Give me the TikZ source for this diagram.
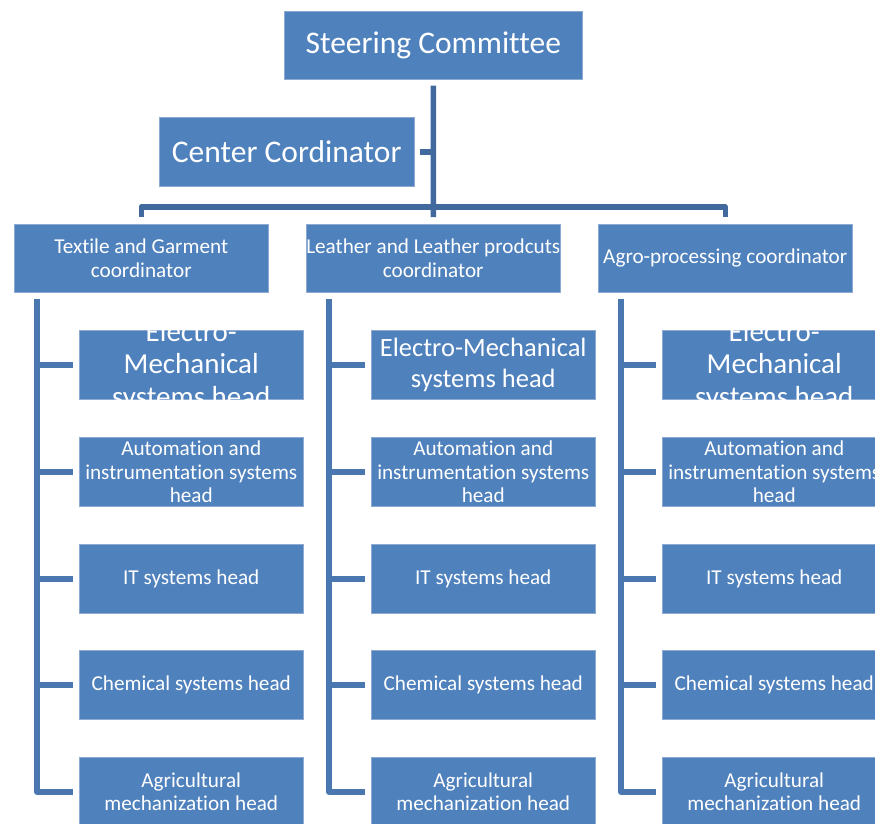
\documentclass[tikz,border=0pt]{standalone}
\usepackage{fontspec}
\setmainfont[Ligatures={NoCommon}]{Carlito}
\definecolor{boxblue}{HTML}{4F81BD}
\definecolor{boxedge}{HTML}{8DAAD3}
\definecolor{topline}{HTML}{41699D}
\definecolor{colline}{HTML}{4A77B0}
\begin{document}
\begin{tikzpicture}[x=1pt,y=-1pt,
  box/.style={fill=boxblue, draw=boxedge, line width=0.5pt, text=white, inner sep=0pt,
    anchor=north west, align=center},
  bigfont/.style={font=\fontsize{31.5}{36}\selectfont},
  midfont/.style={font=\fontsize{21.2}{23.5}\selectfont},
  emfont/.style={font=\fontsize{26.5}{31}\selectfont},
  emclip/.style={font=\fontsize{29}{32.5}\selectfont},
  lvl/.style={box, midfont, minimum width=254pt, minimum height=68pt},
  head/.style={box, midfont, minimum width=224pt, minimum height=69pt},
  topconn/.style={draw=topline, line width=5.5pt},
  colconn/.style={draw=colline, line width=5.5pt},
  wtext/.style={text=white, align=center, inner sep=0pt}
]
\clip (0,0) rectangle (875,823);
\fill[white] (0,0) rectangle (875,823);

% top levels
\node[box, bigfont, minimum width=298pt, minimum height=68pt] (steer) at (284,11) {Steering Committee};
\node[box, bigfont, minimum width=255pt, minimum height=69pt] (center) at (159,117) {Center Cordinator};
\node[lvl] (tex) at (14,224) {Textile and Garment\\coordinator};
\node[lvl] (lea) at (306,224) {Leather and Leather prodcuts\\coordinator};
\node[lvl] (agro) at (598,224) {Agro-processing coordinator};

% top connectors
\draw[topconn] ([yshift=-6pt]steer.south) -- ([yshift=7pt]lea.north);
\draw[topconn] ([xshift=5pt]center.east) -- (center.east -| steer.south);
\draw[topconn, line join=round] ([yshift=7pt]tex.north) -- ([yshift=17pt]tex.north) -| ([yshift=7pt]agro.north);

% heads: columns
\foreach \c/\x in {1/79, 2/371, 3/662} {
  \node[head] (h\c1) at (\x,330) {};
  \node[head] (h\c2) at (\x,437) {Automation and\\instrumentation systems\\head};
  \node[head] (h\c3) at (\x,544) {IT systems head};
  \node[head] (h\c4) at (\x,650) {Chemical systems head};
  \node[head] (h\c5) at (\x,757) {Agricultural\\mechanization head};
}

% Electro-Mechanical texts (clipped to their boxes)
\begin{scope}
  \clip (h11.north west) rectangle (h11.south east);
  \node[wtext, emclip] (e1) at ([yshift=-1.5pt]h11.center) {Electro-\\Mechanical\\systems head};
\end{scope}
\node[wtext, emfont] (e2) at (h21.center) {Electro-Mechanical\\systems head};
\begin{scope}
  \clip (h31.north west) rectangle (h31.south east);
  \node[wtext, emclip] (e3) at ([yshift=-1.5pt]h31.center) {Electro-\\Mechanical\\systems head};
\end{scope}

% column trunks
\coordinate (t1) at ([xshift=23pt,yshift=-6pt]tex.south west);
\coordinate (t2) at ([xshift=23pt,yshift=-6pt]lea.south west);
\coordinate (t3) at ([xshift=23pt,yshift=-6pt]agro.south west);
\foreach \c in {1,2,3} {
  \draw[colconn, line join=round] (t\c) |- ([xshift=-6pt]h\c5.west);
  \foreach \r in {1,2,3,4} {
    \draw[colconn] (h\c\r.west -| t\c) -- ([xshift=-6pt]h\c\r.west);
  }
}
\end{tikzpicture}
\end{document}
